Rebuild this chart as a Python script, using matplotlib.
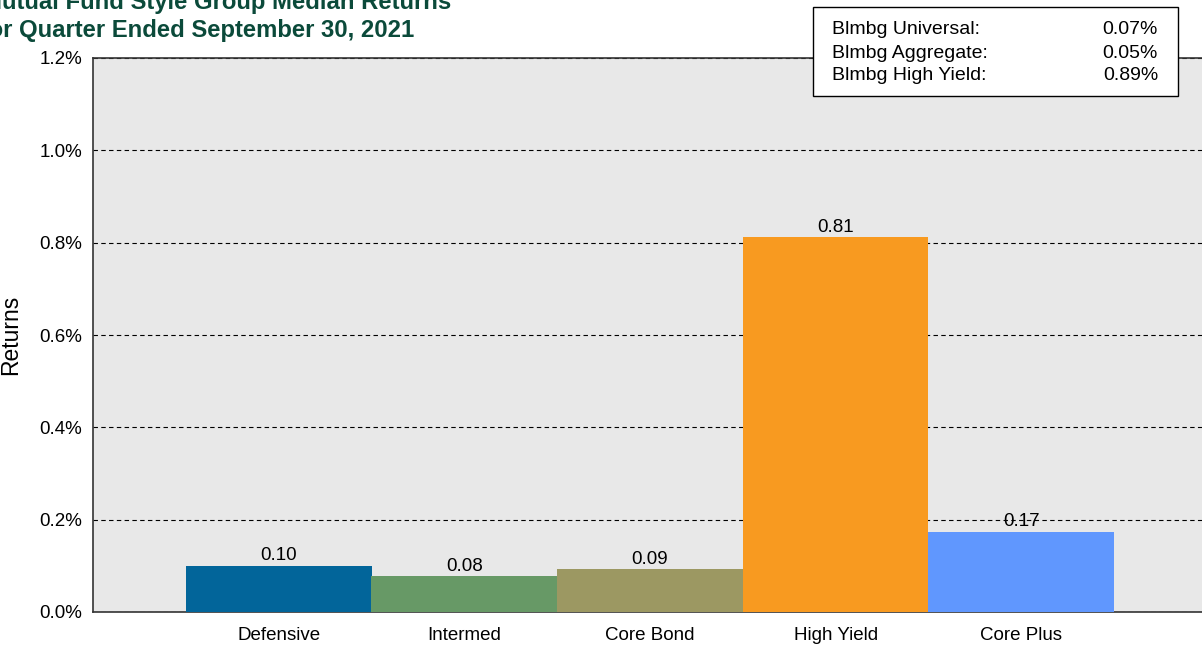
import matplotlib.pyplot as plt
import numpy as np

plt.rcParams['font.family'] = ['Liberation Sans', 'DejaVu Sans']

# data
categories = ["Defensive", "Intermed", "Core Bond", "High Yield", "Core Plus"]
returns = [0.100, 0.077, 0.093, 0.812, 0.174]
bar_colors = ["#02659a", "#679966", "#9c9862", "#f89a20", "#6097fe"]
bench_names = ["Blmbg Universal:", "Blmbg Aggregate:", "Blmbg High Yield:"]
bench_values = ["0.07%", "0.05%", "0.89%"]
yticks = [0.0, 0.2, 0.4, 0.6, 0.8, 1.0, 1.2]

fig = plt.figure(figsize=(12.02, 6.48), dpi=100)
ax = fig.add_axes([93 / 1202, 36 / 648, 1114 / 1202, 554 / 648])
ax.set_facecolor("#e8e8e8")

x = np.arange(len(categories))
bars = ax.bar(x, returns, width=1.0, color=bar_colors, zorder=3)
for xi, v in zip(x, returns):
    ax.annotate(f"{v:.2f}", (xi, v), xytext=(0, 1), textcoords="offset points",
                ha="center", va="bottom", fontsize=13.5, zorder=4)

ax.set_xlim(-1, 5)
ax.set_ylim(0, 1.2)
ax.set_yticks(yticks)
ax.set_yticklabels([f"{t:.1f}%" for t in yticks])
ax.set_xticks(x)
ax.set_xticklabels(categories)
ax.tick_params(axis="both", length=0, labelsize=13.5)
ax.tick_params(axis="y", pad=8)
ax.tick_params(axis="x", pad=11)
ax.yaxis.grid(True, linestyle=(0, (4, 3)), color="black", linewidth=0.8, zorder=1)
ax.set_ylabel("Returns", fontsize=16.5)
ax.yaxis.set_label_coords((22 - 93) / 1114, 0.5)
for s in ax.spines.values():
    s.set_color("#333333")
    s.set_linewidth(1.2)

# title, cut off on the left like the original
fig.text(451 / 1202, 1 - 3 / 648, "Mutual Fund Style Group Median Returns",
         ha="right", va="center", fontsize=17.2, fontweight="bold", color="#0b4a3a")
fig.text(414 / 1202, 1 - 31 / 648, "For Quarter Ended September 30, 2021",
         ha="right", va="center", fontsize=17.2, fontweight="bold", color="#0b4a3a")

# benchmark box
box = plt.Rectangle((813 / 1202, 1 - 96 / 648), 365 / 1202, 89 / 648,
                    transform=fig.transFigure, facecolor="white",
                    edgecolor="black", linewidth=1, zorder=10)
fig.add_artist(box)
for i, (n, v) in enumerate(zip(bench_names, bench_values)):
    yy = 1 - (30 + 23 * i) / 648
    fig.text(832 / 1202, yy, n, ha="left", va="center", fontsize=14, zorder=11)
    fig.text(1158 / 1202, yy, v, ha="right", va="center", fontsize=14, zorder=11)

fig.savefig("out.png", dpi=100)
